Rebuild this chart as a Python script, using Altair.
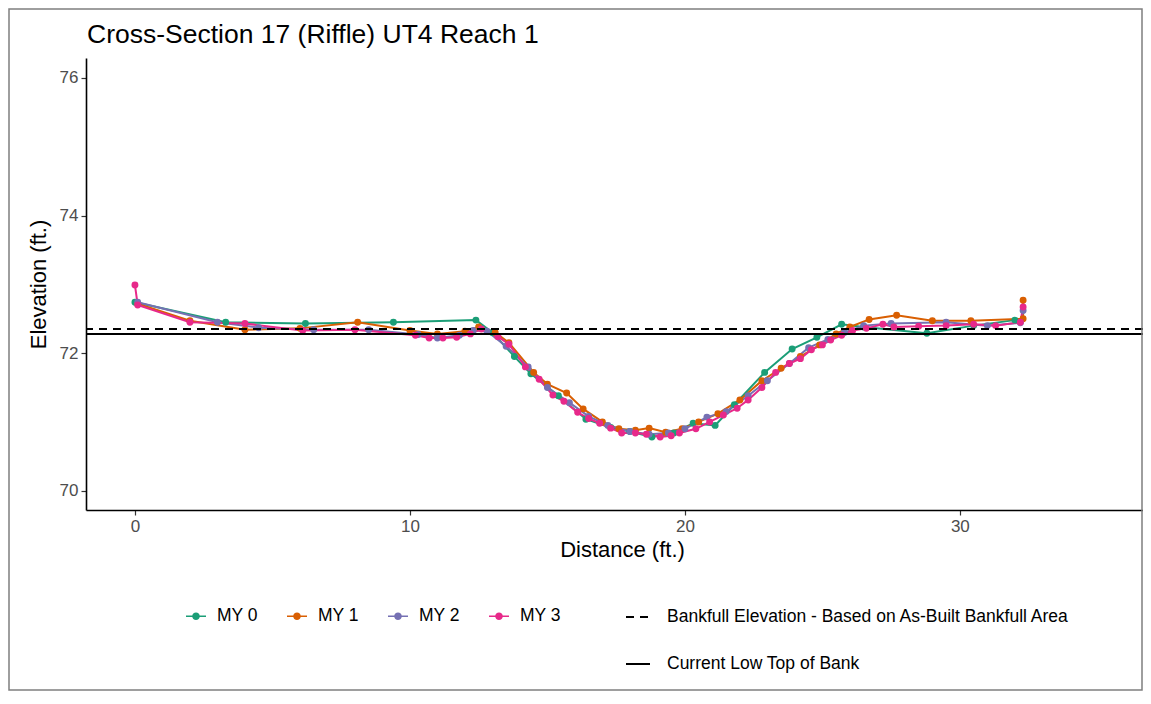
import altair as alt
import pandas as pd

SURVEYS = ["MY 0", "MY 1", "MY 2", "MY 3"]
COLORS = ["#1B9E77", "#D95F02", "#7570B3", "#E7298A"]

my0_x = [0.0, 3.3, 6.2, 9.4, 12.4, 13.0, 13.8, 14.4, 15.4, 16.4, 17.3, 18.0, 18.8, 19.6, 20.3, 21.1,
         21.8, 22.9, 23.9, 24.8, 25.7, 26.5, 28.8, 30.5, 32.0]
my0_y = [72.74, 72.45, 72.43, 72.45, 72.48, 72.30, 71.95, 71.70, 71.38, 71.04, 70.92, 70.86, 70.78, 70.84,
         70.98, 70.95, 71.25, 71.72, 72.06, 72.23, 72.42, 72.38, 72.29, 72.40, 72.48]

my1_x = [0.1, 2.0, 4.0, 6.0, 8.1, 10.0, 11.0, 12.0, 12.5, 13.1, 13.6, 14.5, 15.0, 15.7, 16.3, 17.0, 17.6,
         18.2, 18.7, 19.3, 19.9, 20.5, 21.2, 22.0, 22.8, 23.5, 24.2, 24.9, 25.5, 26.0, 26.7, 27.7, 29.0,
         30.4, 32.3, 32.3]
my1_y = [72.72, 72.47, 72.34, 72.36, 72.45, 72.33, 72.28, 72.32, 72.38, 72.30, 72.15, 71.72, 71.55, 71.42,
         71.19, 71.00, 70.90, 70.88, 70.91, 70.85, 70.90, 71.00, 71.12, 71.32, 71.60, 71.78, 71.95, 72.12,
         72.28, 72.38, 72.49, 72.55, 72.47, 72.47, 72.50, 72.77]

my2_x = [0.1, 3.0, 4.5, 6.5, 8.5, 10.3, 11.0, 11.8, 12.3, 12.8, 13.5, 14.3, 15.0, 15.8, 16.5, 17.2, 18.0,
         18.7, 19.4, 20.0, 20.8, 21.5, 22.3, 23.0, 23.8, 24.5, 25.2, 25.8, 26.5, 27.5, 29.5, 31.0, 32.2, 32.3]
my2_y = [72.74, 72.45, 72.37, 72.34, 72.34, 72.27, 72.22, 72.26, 72.33, 72.32, 72.10, 71.80, 71.50, 71.28,
         71.08, 70.95, 70.86, 70.82, 70.84, 70.90, 71.07, 71.15, 71.38, 71.60, 71.85, 72.08, 72.20, 72.30,
         72.40, 72.43, 72.45, 72.40, 72.44, 72.62]

my3_x = [0.0, 0.1, 2.0, 4.0, 6.1, 8.0, 10.2, 10.7, 11.2, 11.7, 12.2, 12.6, 13.2, 13.6, 14.2, 14.7, 15.2,
         15.6, 16.1, 16.5, 16.9, 17.3, 17.7, 18.2, 18.6, 19.1, 19.5, 19.8, 20.4, 20.9, 21.4, 21.9, 22.3,
         22.8, 23.3, 23.8, 24.2, 24.6, 25.0, 25.3, 25.7, 26.1, 26.6, 27.2, 27.6, 28.5, 29.5, 30.5, 31.3,
         32.2, 32.3]
my3_y = [72.99, 72.70, 72.45, 72.43, 72.33, 72.34, 72.26, 72.22, 72.22, 72.23, 72.28, 72.35, 72.24, 72.13,
         71.80, 71.62, 71.39, 71.30, 71.14, 71.05, 70.98, 70.91, 70.84, 70.84, 70.82, 70.78, 70.80, 70.84,
         70.90, 71.00, 71.10, 71.20, 71.32, 71.50, 71.72, 71.85, 71.92, 72.05, 72.12, 72.19, 72.26, 72.33,
         72.36, 72.42, 72.38, 72.39, 72.40, 72.42, 72.40, 72.45, 72.67]

REF_LABELS = ["Bankfull Elevation - Based on As-Built Bankfull Area", "Current Low Top of Bank"]
REF_VALUES = [72.35, 72.28]

X_TICKS = [0, 10, 20, 30]
Y_TICKS = [70, 72, 74, 76]

TITLE = "Cross-Section 17 (Riffle) UT4 Reach 1"

rows = []
for name, xs, ys in zip(SURVEYS, [my0_x, my1_x, my2_x, my3_x], [my0_y, my1_y, my2_y, my3_y]):
    for i, (xv, yv) in enumerate(zip(xs, ys)):
        rows.append({"Survey": name, "Distance": xv, "Elevation": yv, "idx": i})
df = pd.DataFrame(rows)
ref_df = pd.DataFrame({"Line": REF_LABELS, "Elevation": REF_VALUES})

FONT = "Liberation Sans"
W, H = 1057, 452

xscale = alt.Scale(domain=[-1.78, 36.66], nice=False, zero=False)
yscale = alt.Scale(domain=[69.72, 76.29], nice=False, zero=False)
cscale = alt.Scale(domain=SURVEYS, range=COLORS)

x_axis = alt.Axis(values=X_TICKS, format="d", title="Distance (ft.)", grid=False, domainColor="black",
                  domainWidth=1.6, tickColor="#333333", tickSize=5, tickWidth=1.2, labelColor="#4D4D4D",
                  labelFontSize=17, labelFont=FONT, titleFont=FONT, titleFontSize=22, titleFontWeight="normal",
                  titleColor="black", labelPadding=3, titlePadding=5, titleX=536)
y_axis = alt.Axis(values=Y_TICKS, format="d", title="Elevation (ft.)", grid=False, domainColor="black",
                  domainWidth=1.6, tickColor="#333333", tickSize=5, tickWidth=1.2, labelColor="#4D4D4D",
                  labelFontSize=17, labelFont=FONT, titleFont=FONT, titleFontSize=22, titleFontWeight="normal",
                  titleColor="black", labelPadding=3, titlePadding=9)

LEG_PATH = "M-1,-0.08H1V0.08H-1Z M0.38,0A0.38,0.38 0 1 1 -0.38,0A0.38,0.38 0 1 1 0.38,0Z"

lines = alt.Chart(df).mark_line(strokeWidth=2).encode(
    x=alt.X("Distance:Q", scale=xscale, axis=x_axis),
    y=alt.Y("Elevation:Q", scale=yscale, axis=y_axis),
    color=alt.Color("Survey:N", scale=cscale, legend=None),
    order=alt.Order("idx:Q"),
)

points = alt.Chart(df).mark_circle(size=48, opacity=1).encode(
    x=alt.X("Distance:Q", scale=xscale),
    y=alt.Y("Elevation:Q", scale=yscale),
    color=alt.Color("Survey:N", scale=cscale, legend=alt.Legend(
        title=None, orient="none", direction="horizontal", legendX=100, legendY=548,
        symbolType=LEG_PATH, symbolSize=400, symbolStrokeWidth=0, symbolOpacity=1,
        labelFont=FONT, labelFontSize=17.5, labelColor="black", labelOffset=11, columnPadding=29,
    )),
)

rules = alt.Chart(ref_df).mark_rule(strokeWidth=2, color="black").encode(
    y=alt.Y("Elevation:Q", scale=yscale),
    strokeDash=alt.StrokeDash("Line:N", scale=alt.Scale(domain=REF_LABELS, range=[[8, 6], [1, 0]]),
                              legend=alt.Legend(
                                  title=None, orient="none", direction="vertical", legendX=539, legendY=546,
                                  symbolType="stroke", symbolSize=576, symbolStrokeColor="black",
                                  symbolStrokeWidth=2, labelFont=FONT, labelFontSize=17.5, labelColor="black",
                                  labelOffset=16, rowPadding=25, labelLimit=0,
                              )),
)

one = pd.DataFrame({"k": [0]})

border = alt.Chart(one).mark_rect(
    fill="transparent", stroke="#7F7F7F", strokeWidth=1.5
).encode(
    x=alt.value(-77), x2=alt.value(1056), y=alt.value(-49), y2=alt.value(632)
)

title = alt.Chart(one).mark_text(
    text=TITLE, font=FONT, fontSize=26.5, color="black", align="left", baseline="alphabetic"
).encode(x=alt.value(1), y=alt.value(-15))

chart = alt.layer(lines, points, rules, border, title).resolve_legend(
    color="independent"
).properties(
    width=W, height=H,
    autosize=alt.AutoSizeParams(type="none"),
    padding={"left": 78, "top": 50, "right": 0, "bottom": 182},
).configure(background="white", view=alt.ViewConfig(stroke=None))

chart.save("out.html", embed_options={"renderer": "svg", "actions": False})
